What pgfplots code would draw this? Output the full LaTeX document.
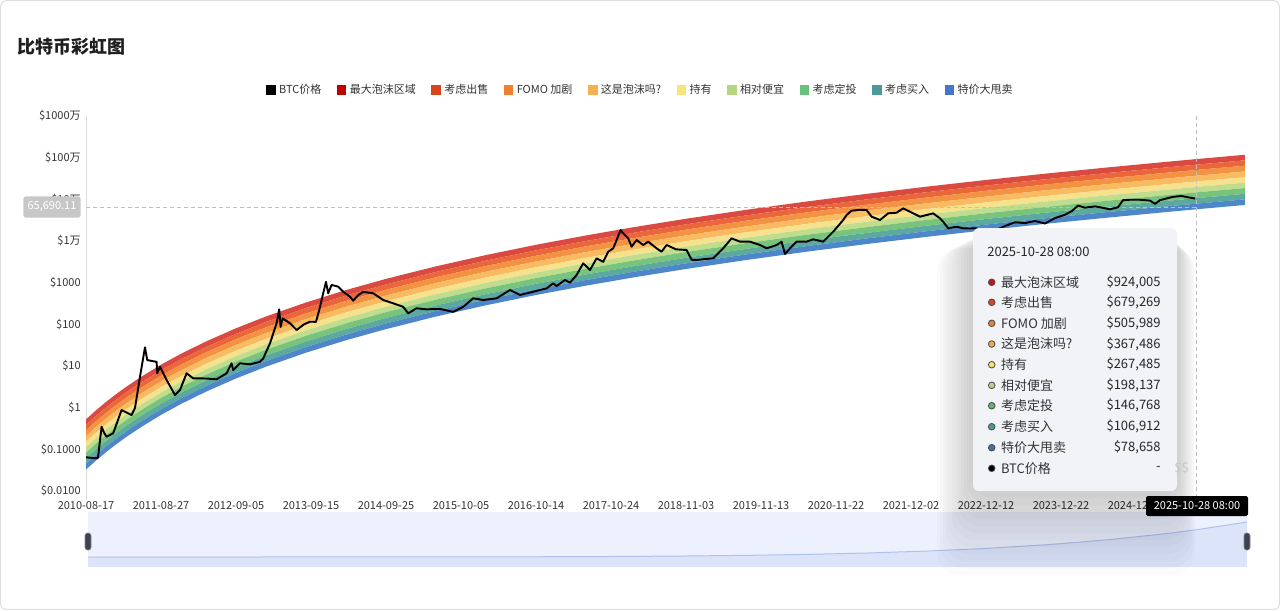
\documentclass[border=0pt]{standalone}
\usepackage{pgfplots}
\pgfplotsset{compat=1.18}
\usepackage{pgfplotstable}
\usepackage{fontspec}
\setmainfont{Noto Sans CJK SC}

\definecolor{tickc}{HTML}{333333}
% band colours
\definecolor{bA}{HTML}{DB4A40}
\definecolor{bB}{HTML}{EA673B}
\definecolor{bC}{HTML}{F39243}
\definecolor{bD}{HTML}{F8BB62}
\definecolor{bE}{HTML}{F6E28C}
\definecolor{bF}{HTML}{BFDD8D}
\definecolor{bG}{HTML}{79C47D}
\definecolor{bH}{HTML}{5CA99E}
\definecolor{bI}{HTML}{4E87C9}
% legend colours
\definecolor{lA}{HTML}{C00000}
\definecolor{lB}{HTML}{D9441F}
\definecolor{lC}{HTML}{F08030}
\definecolor{lD}{HTML}{F5B050}
\definecolor{lE}{HTML}{F9E37B}
\definecolor{lF}{HTML}{B3D67F}
\definecolor{lG}{HTML}{6AC27A}
\definecolor{lH}{HTML}{4A999B}
\definecolor{lI}{HTML}{4676CB}
% tooltip dot colours
\definecolor{dA}{HTML}{C0141A}
\definecolor{dB}{HTML}{D9452B}
\definecolor{dC}{HTML}{F07C2E}
\definecolor{dD}{HTML}{F3A94A}
\definecolor{dE}{HTML}{F8E170}
\definecolor{dF}{HTML}{B5D488}
\definecolor{dG}{HTML}{5FB56C}
\definecolor{dH}{HTML}{4B9A99}
\definecolor{dI}{HTML}{3F6FC0}
\definecolor{tipbg}{HTML}{F1F3F6}
\definecolor{sliderbg}{HTML}{EDF1FD}
\definecolor{shfill}{HTML}{DCE4FA}
\definecolor{shline}{HTML}{AFC1EE}
\definecolor{handle}{HTML}{3B4252}

\newcommand{\tf}{\fontsize{6.6pt}{8pt}\selectfont}
\newcommand{\ttf}{\fontsize{7.8pt}{9pt}\selectfont}

% rainbow: bottom boundary log10(price) and band thicknesses (decades), days since 2010-08-17
\pgfplotstableread{
t base d1 d2 d3 d4 d5 d6 d7 d8 d9
0 -1.485 0.135 0.133 0.138 0.130 0.131 0.138 0.138 0.128 0.134
50 -1.269 0.135 0.133 0.138 0.130 0.131 0.138 0.138 0.128 0.134
100 -1.068 0.135 0.133 0.138 0.130 0.131 0.138 0.138 0.128 0.134
150 -0.882 0.135 0.133 0.138 0.130 0.131 0.138 0.138 0.128 0.134
200 -0.708 0.135 0.133 0.138 0.130 0.131 0.138 0.138 0.128 0.134
275 -0.466 0.135 0.133 0.138 0.130 0.131 0.138 0.138 0.128 0.134
375 -0.174 0.135 0.133 0.138 0.130 0.131 0.138 0.138 0.128 0.134
475 0.089 0.135 0.133 0.138 0.130 0.131 0.138 0.138 0.128 0.134
600 0.384 0.135 0.133 0.138 0.130 0.131 0.138 0.138 0.128 0.134
750 0.701 0.135 0.133 0.138 0.130 0.131 0.138 0.138 0.128 0.134
900 0.984 0.135 0.133 0.138 0.130 0.131 0.138 0.138 0.128 0.134
1100 1.320 0.135 0.133 0.138 0.130 0.131 0.138 0.138 0.128 0.134
1300 1.618 0.135 0.133 0.138 0.130 0.131 0.138 0.138 0.128 0.134
1500 1.886 0.135 0.133 0.138 0.130 0.131 0.138 0.138 0.128 0.134
1750 2.187 0.135 0.133 0.138 0.130 0.131 0.138 0.138 0.128 0.134
2000 2.458 0.135 0.133 0.138 0.130 0.131 0.138 0.138 0.128 0.134
2250 2.704 0.135 0.133 0.138 0.130 0.131 0.138 0.138 0.128 0.134
2500 2.929 0.135 0.133 0.138 0.130 0.131 0.138 0.138 0.128 0.134
2750 3.136 0.135 0.133 0.138 0.130 0.131 0.138 0.138 0.128 0.134
3000 3.329 0.135 0.133 0.138 0.130 0.131 0.138 0.138 0.128 0.134
3300 3.543 0.135 0.133 0.138 0.130 0.131 0.138 0.138 0.128 0.134
3600 3.741 0.135 0.133 0.138 0.130 0.131 0.138 0.138 0.128 0.134
3900 3.925 0.135 0.133 0.138 0.130 0.131 0.138 0.138 0.128 0.134
4200 4.098 0.135 0.133 0.138 0.130 0.131 0.138 0.138 0.128 0.134
4500 4.260 0.135 0.133 0.138 0.130 0.131 0.138 0.138 0.128 0.134
4800 4.413 0.135 0.133 0.138 0.130 0.131 0.138 0.138 0.128 0.134
5100 4.557 0.135 0.133 0.138 0.130 0.131 0.138 0.138 0.128 0.134
5400 4.694 0.135 0.133 0.138 0.130 0.131 0.138 0.138 0.128 0.134
5551 4.761 0.135 0.133 0.138 0.130 0.131 0.138 0.138 0.128 0.134
5795 4.865 0.135 0.133 0.138 0.130 0.131 0.138 0.138 0.128 0.134
}\bands

% BTC price: log10(USD)
\pgfplotstableread{
t p
0 -1.19
45 -1.215
60 -1.20
78 -0.457
90 -0.60
103 -0.697
136 -0.615
178 -0.056
228 -0.176
245 -0.008
270 0.743
295 1.449
306 1.144
330 1.12
353 1.10
356 0.825
370 0.98
403 0.664
445 0.304
470 0.424
503 0.825
536 0.705
600 0.70
653 0.68
703 0.825
728 1.065
736 0.90
770 1.065
820 1.04
870 1.10
886 1.18
920 1.545
953 2.025
966 2.36
973 1.94
983 2.144
1020 2.025
1053 1.864
1090 2.00
1120 2.063
1150 2.06
1166 2.34
1186 2.745
1200 3.02
1211 2.745
1228 2.945
1261 2.905
1286 2.783
1320 2.663
1336 2.567
1361 2.70
1386 2.78
1436 2.745
1486 2.584
1536 2.505
1586 2.42
1611 2.265
1653 2.385
1700 2.36
1770 2.37
1836 2.30
1886 2.42
1936 2.625
1986 2.584
2053 2.625
2120 2.824
2170 2.704
2236 2.783
2303 2.864
2336 2.984
2353 2.92
2395 3.064
2420 3.00
2453 3.184
2486 3.464
2520 3.304
2553 3.584
2586 3.50
2611 3.743
2636 3.824
2653 4.024
2673 4.264
2686 4.184
2711 4.064
2728 3.863
2753 4.024
2786 3.904
2811 3.984
2853 3.824
2878 3.743
2903 3.904
2950 3.80
3003 3.784
3028 3.55
3053 3.544
3100 3.57
3136 3.584
3186 3.824
3228 4.064
3270 3.984
3320 3.984
3370 3.904
3403 3.824
3453 3.904
3478 3.984
3495 3.688
3520 3.824
3553 3.984
3603 3.984
3636 4.04
3686 3.984
3736 4.224
3786 4.504
3803 4.624
3828 4.727
3870 4.75
3903 4.744
3928 4.584
3970 4.504
4011 4.664
4053 4.679
4086 4.784
4120 4.703
4170 4.584
4203 4.624
4236 4.664
4270 4.544
4286 4.463
4311 4.304
4353 4.343
4386 4.304
4420 4.30
4453 4.304
4480 4.22
4500 4.22
4545 4.25
4595 4.36
4645 4.45
4695 4.43
4745 4.48
4795 4.42
4845 4.55
4895 4.63
4930 4.72
4960 4.85
4995 4.80
5045 4.83
5070 4.81
5120 4.76
5160 4.81
5185 4.98
5220 4.99
5270 4.99
5320 4.97
5345 4.89
5370 4.98
5410 5.03
5435 5.06
5478 5.08
5510 5.05
5545 5.02
}\btc

% data shadow of the zoom slider (top band, USD)
\pgfplotstableread{
t v
0 0.5
750 80
1500 1233
1750 2466
2000 4603
2250 8110
2500 13614
2750 21930
3000 34200
3300 55980
3600 88310
3900 134900
4200 200900
4500 291700
4800 415000
5100 578100
5400 792500
5551 924000
5795 1174900
}\shadowtab

\pgfplotsset{
  mainax/.style={
    at={(51.6pt,-294.6pt)}, anchor=south west,
    scale only axis, width=695.4pt, height=225pt,
    xmin=0, xmax=5795, ymin=-2, ymax=7,
  }
}

\begin{document}
\begin{tikzpicture}
\begin{scope}[x=0.6pt,y=-0.6pt]
  \fill[white] (0,0) rectangle (1280,610);
  \draw[black!12, line width=0.6pt, rounded corners=3pt] (0.6,0.6) rectangle (1279.4,609.4);
  \node[anchor=west, font=\fontsize{10.8pt}{12pt}\selectfont\bfseries, text=black!88, inner sep=0pt] at (17,47) {比特币彩虹图};
  \draw[black!14, line width=0.6pt] (86,116) -- (86,500);
\end{scope}

% rainbow bands (stacked areas in log10 space)
\begin{axis}[
  mainax,
  stack plots=y,
  axis line style={draw=none},
  major tick length=0pt,
  xtick={0,375,750,1125,1500,1875,2250,2625,3000,3375,3750,4125,4500,4875,5250},
  xticklabels={2010-08-17,2011-08-27,2012-09-05,2013-09-15,2014-09-25,2015-10-05,2016-10-14,2017-10-24,2018-11-03,2019-11-13,2020-11-22,2021-12-02,2022-12-12,2023-12-22,2024-12-31},
  ytick={-2,-1,0,1,2,3,4,5,6,7},
  yticklabels={\$0.0100,\$0.1000,\$1,\$10,\$100,\$1000,\$1万,\$10万,\$100万,\$1000万},
  xticklabel style={font=\tf, text=tickc, inner sep=0pt, anchor=north, yshift=-6pt},
  yticklabel style={font=\tf, text=tickc, inner sep=0pt, anchor=east, xshift=-3pt},
  legend columns=10,
  legend image code/.code={\fill[#1] (0pt,-2.9pt) rectangle (5.8pt,2.9pt);},
  legend style={at={(0.4789,1.069)}, anchor=center, draw=none, fill=none,
    font=\tf, text=tickc, inner sep=0pt,
    /tikz/every even column/.append style={column sep=7.3pt}},
]
\addlegendimage{fill=black, draw=none}\addlegendentry{BTC价格}
\addlegendimage{fill=lA, draw=none}\addlegendentry{最大泡沫区域}
\addlegendimage{fill=lB, draw=none}\addlegendentry{考虑出售}
\addlegendimage{fill=lC, draw=none}\addlegendentry{FOMO 加剧}
\addlegendimage{fill=lD, draw=none}\addlegendentry{这是泡沫吗?}
\addlegendimage{fill=lE, draw=none}\addlegendentry{持有}
\addlegendimage{fill=lF, draw=none}\addlegendentry{相对便宜}
\addlegendimage{fill=lG, draw=none}\addlegendentry{考虑定投}
\addlegendimage{fill=lH, draw=none}\addlegendentry{考虑买入}
\addlegendimage{fill=lI, draw=none}\addlegendentry{特价大甩卖}

\addplot[draw=none, fill=none, forget plot] table[x=t,y=base]{\bands};
\addplot[draw=none, fill=bI, forget plot] table[x=t,y=d1]{\bands} \closedcycle;
\addplot[draw=none, fill=bH, forget plot] table[x=t,y=d2]{\bands} \closedcycle;
\addplot[draw=none, fill=bG, forget plot] table[x=t,y=d3]{\bands} \closedcycle;
\addplot[draw=none, fill=bF, forget plot] table[x=t,y=d4]{\bands} \closedcycle;
\addplot[draw=none, fill=bE, forget plot] table[x=t,y=d5]{\bands} \closedcycle;
\addplot[draw=none, fill=bD, forget plot] table[x=t,y=d6]{\bands} \closedcycle;
\addplot[draw=none, fill=bC, forget plot] table[x=t,y=d7]{\bands} \closedcycle;
\addplot[draw=none, fill=bB, forget plot] table[x=t,y=d8]{\bands} \closedcycle;
\addplot[draw=none, fill=bA, forget plot] table[x=t,y=d9]{\bands} \closedcycle;
\end{axis}

% crosshair (under the price line)
\begin{scope}[x=0.6pt,y=-0.6pt]
  \draw[black!25, line width=0.5pt, dash pattern=on 2.4pt off 1.8pt] (1196,116) -- (1196,496);
  \draw[black!25, line width=0.5pt, dash pattern=on 2.4pt off 1.8pt] (86,207) -- (1196,207);
\end{scope}

% BTC price line
\begin{axis}[mainax, hide axis]
\addplot[black, line width=1.15pt, line join=round, forget plot] table[x=t,y=p]{\btc};
\end{axis}

\begin{scope}[x=0.6pt,y=-0.6pt]
  \fill[sliderbg] (88,512) rectangle (1247,567);
  \fill[shfill] (88,557) rectangle (1247,567);
\end{scope}

% zoom slider data shadow
\begin{axis}[
  at={(52.8pt,-334.2pt)}, anchor=south west,
  scale only axis, width=695.4pt, height=27pt,
  xmin=0, xmax=5795, ymin=0, ymax=1511000,
  hide axis,
]
\addplot[fill=shfill, draw=none, forget plot] table[x=t,y=v]{\shadowtab} \closedcycle;
\addplot[draw=shline, line width=0.6pt, forget plot] table[x=t,y=v]{\shadowtab};
\end{axis}

\begin{scope}[x=0.6pt,y=-0.6pt]
  % slider handles
  \filldraw[fill=handle, draw=black!45, line width=0.4pt, rounded corners=1.5pt] (85,533) rectangle (91,550);
  \filldraw[fill=handle, draw=black!45, line width=0.4pt, rounded corners=1.5pt] (1244,533) rectangle (1250,550);
  \node[fill=black!22, text=white, font=\tf, rounded corners=1.5pt, inner xsep=2.5pt, minimum height=10.5pt] at (52,207) {65,690.11};
  % tooltip shadow (soft)
  \foreach \k in {1,...,12} {
    \fill[black, opacity=0.016, rounded corners=14pt] (973-3*\k,230+1.5*\k) rectangle (1177+1.5*\k,491+7*\k);
  }
  % tooltip
  \fill[tipbg, rounded corners=3.6pt] (973,228) rectangle (1177,491);
  \node[anchor=west, font=\ttf, text=black!85, inner sep=0pt] at (987,252) {2025-10-28 08:00};

  \filldraw[fill=dA, draw=black!70, line width=0.5pt] (991.7,282.3) circle[radius=3.3];
  \node[anchor=west, font=\ttf, text=black!80, inner sep=0pt] at (1000.7,282.3) {最大泡沫区域};
  \node[anchor=east, font=\ttf, text=black!85, inner sep=0pt] at (1161,282.3) {\$924,005};

  \filldraw[fill=dB, draw=black!70, line width=0.5pt] (991.7,302.3) circle[radius=3.3];
  \node[anchor=west, font=\ttf, text=black!80, inner sep=0pt] at (1000.7,302.3) {考虑出售};
  \node[anchor=east, font=\ttf, text=black!85, inner sep=0pt] at (1161,302.3) {\$679,269};

  \filldraw[fill=dC, draw=black!70, line width=0.5pt] (991.7,323.3) circle[radius=3.3];
  \node[anchor=west, font=\ttf, text=black!80, inner sep=0pt] at (1000.7,323.3) {FOMO 加剧};
  \node[anchor=east, font=\ttf, text=black!85, inner sep=0pt] at (1161,323.3) {\$505,989};

  \filldraw[fill=dD, draw=black!70, line width=0.5pt] (991.7,344) circle[radius=3.3];
  \node[anchor=west, font=\ttf, text=black!80, inner sep=0pt] at (1000.7,344) {这是泡沫吗?};
  \node[anchor=east, font=\ttf, text=black!85, inner sep=0pt] at (1161,344) {\$367,486};

  \filldraw[fill=dE, draw=black!70, line width=0.5pt] (991.7,364.7) circle[radius=3.3];
  \node[anchor=west, font=\ttf, text=black!80, inner sep=0pt] at (1000.7,364.7) {持有};
  \node[anchor=east, font=\ttf, text=black!85, inner sep=0pt] at (1161,364.7) {\$267,485};

  \filldraw[fill=dF, draw=black!70, line width=0.5pt] (991.7,385.3) circle[radius=3.3];
  \node[anchor=west, font=\ttf, text=black!80, inner sep=0pt] at (1000.7,385.3) {相对便宜};
  \node[anchor=east, font=\ttf, text=black!85, inner sep=0pt] at (1161,385.3) {\$198,137};

  \filldraw[fill=dG, draw=black!70, line width=0.5pt] (991.7,405.7) circle[radius=3.3];
  \node[anchor=west, font=\ttf, text=black!80, inner sep=0pt] at (1000.7,405.7) {考虑定投};
  \node[anchor=east, font=\ttf, text=black!85, inner sep=0pt] at (1161,405.7) {\$146,768};

  \filldraw[fill=dH, draw=black!70, line width=0.5pt] (991.7,426.7) circle[radius=3.3];
  \node[anchor=west, font=\ttf, text=black!80, inner sep=0pt] at (1000.7,426.7) {考虑买入};
  \node[anchor=east, font=\ttf, text=black!85, inner sep=0pt] at (1161,426.7) {\$106,912};

  \filldraw[fill=dI, draw=black!70, line width=0.5pt] (991.7,447.7) circle[radius=3.3];
  \node[anchor=west, font=\ttf, text=black!80, inner sep=0pt] at (1000.7,447.7) {特价大甩卖};
  \node[anchor=east, font=\ttf, text=black!85, inner sep=0pt] at (1161,447.7) {\$78,658};

  \filldraw[fill=black, draw=black!70, line width=0.5pt] (991.7,468.3) circle[radius=3.3];
  \node[anchor=west, font=\ttf, text=black!80, inner sep=0pt] at (1000.7,468.3) {BTC价格};
  \node[anchor=east, font=\ttf, text=black!85, inner sep=0pt] at (1161,468.3) {-};
  \node[anchor=west, font=\ttf, text=black!22, inner sep=0pt] at (1174,468.3) {\$\$};

  % x-axis pointer label
  \node[fill=black, text=white, font=\tf, rounded corners=1pt, minimum width=61.2pt, minimum height=12pt, inner sep=1pt] at (1197,506) {2025-10-28 08:00};
\end{scope}

\pgfresetboundingbox
\begin{scope}[x=0.6pt,y=-0.6pt]
  \path (0,0) rectangle (1280,610);
\end{scope}
\end{tikzpicture}
\end{document}
